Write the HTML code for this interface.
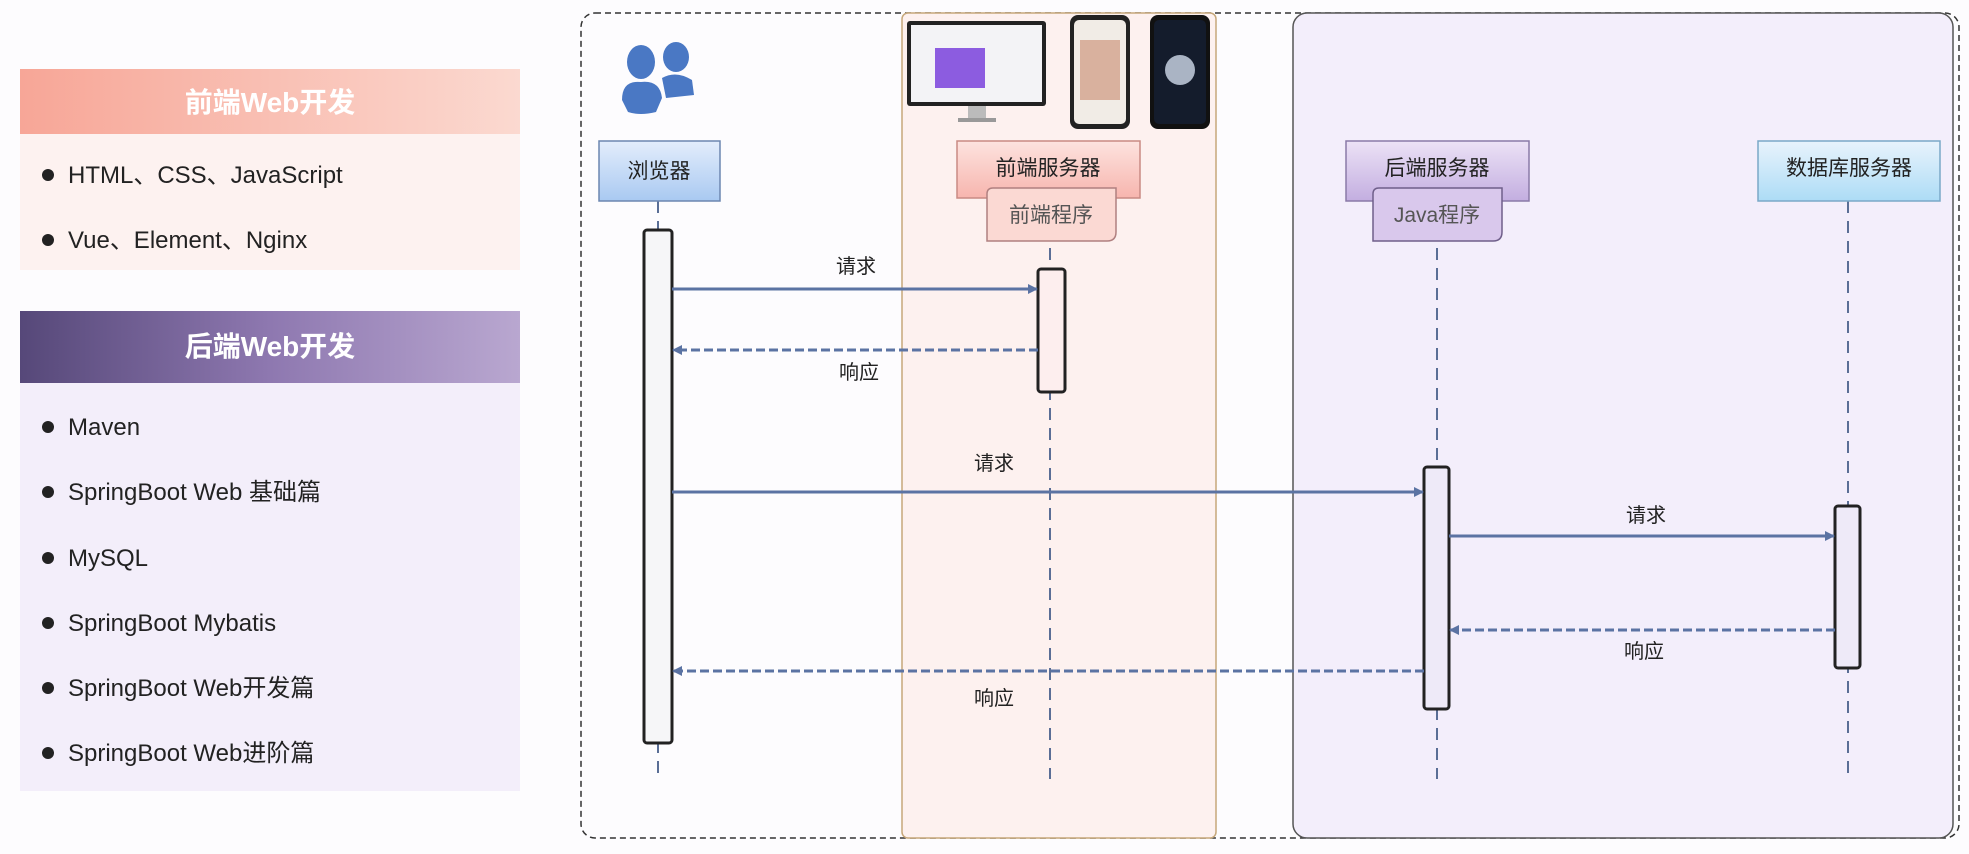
<!DOCTYPE html>
<html><head><meta charset="utf-8"><style>
html,body{margin:0;padding:0;background:#fdfcfe;}
svg{display:block;font-family:"Liberation Sans","Noto Sans CJK SC",sans-serif;}
</style></head><body>
<svg width="1969" height="854" viewBox="0 0 1969 854" xmlns="http://www.w3.org/2000/svg">
<defs>
<linearGradient id="gf" x1="0" x2="1"><stop offset="0" stop-color="#f7a697"/><stop offset="1" stop-color="#fbd9d0"/></linearGradient>
<linearGradient id="gb" x1="0" x2="1"><stop offset="0" stop-color="#564879"/><stop offset="0.5" stop-color="#8e78b0"/><stop offset="1" stop-color="#b9a7d0"/></linearGradient>
<linearGradient id="pb" x1="0" y1="0" x2="0" y2="1"><stop offset="0" stop-color="#e3edfc"/><stop offset="1" stop-color="#a9c9f1"/></linearGradient>
<linearGradient id="pp" x1="0" y1="0" x2="0" y2="1"><stop offset="0" stop-color="#fde3df"/><stop offset="1" stop-color="#f7b5ae"/></linearGradient>
<linearGradient id="pv" x1="0" y1="0" x2="0" y2="1"><stop offset="0" stop-color="#ece2f6"/><stop offset="1" stop-color="#c3aee0"/></linearGradient>
<linearGradient id="pd" x1="0" y1="0" x2="0" y2="1"><stop offset="0" stop-color="#e8f3fc"/><stop offset="1" stop-color="#addcf6"/></linearGradient>
<marker id="ah" markerWidth="10" markerHeight="10" refX="9" refY="5" orient="auto" markerUnits="userSpaceOnUse"><path d="M0,0 L10,5 L0,10 Z" fill="#5b73a3"/></marker>
</defs>

<!-- left panels -->
<rect x="20" y="69" width="500" height="65" fill="url(#gf)"/>
<text x="270" y="112" text-anchor="middle" font-size="28" font-weight="bold" fill="#fff">前端Web开发</text>
<rect x="20" y="134" width="500" height="136" fill="#fdf2f0"/>
<g font-size="24" fill="#222">
<circle cx="48" cy="175" r="6" fill="#222"/><text x="68" y="183">HTML、CSS、JavaScript</text>
<circle cx="48" cy="240" r="6" fill="#222"/><text x="68" y="248">Vue、Element、Nginx</text>
</g>
<rect x="20" y="311" width="500" height="72" fill="url(#gb)"/>
<text x="270" y="356" text-anchor="middle" font-size="28" font-weight="bold" fill="#fff">后端Web开发</text>
<rect x="20" y="383" width="500" height="408" fill="#f3eefa"/>
<g font-size="24" fill="#222">
<circle cx="48" cy="427" r="6"/><text x="68" y="435">Maven</text>
<circle cx="48" cy="492" r="6"/><text x="68" y="500">SpringBoot Web 基础篇</text>
<circle cx="48" cy="558" r="6"/><text x="68" y="566">MySQL</text>
<circle cx="48" cy="623" r="6"/><text x="68" y="631">SpringBoot Mybatis</text>
<circle cx="48" cy="688" r="6"/><text x="68" y="696">SpringBoot Web开发篇</text>
<circle cx="48" cy="753" r="6"/><text x="68" y="761">SpringBoot Web进阶篇</text>
</g>

<!-- regions -->
<rect x="581" y="13" width="1378" height="825" rx="14" fill="none" stroke="#333" stroke-width="1.5" stroke-dasharray="6,4"/>
<rect x="902" y="13" width="314" height="825" rx="6" fill="#fdf1ef" stroke="#c6a77a" stroke-width="1.5"/>
<rect x="1293" y="13" width="660" height="825" rx="14" fill="#f3eefb" stroke="#555" stroke-width="1.5"/>

<!-- people icon -->
<g fill="#4a78c4">
<ellipse cx="641" cy="62" rx="14" ry="17"/>
<path d="M622,100 Q622,80 641,82 Q660,80 662,98 L656,112 Q640,116 628,112 Z"/>
<ellipse cx="676" cy="57" rx="13" ry="15"/>
<path d="M662,78 Q676,70 692,80 L694,95 L666,98 Z"/>
</g>

<!-- devices -->
<rect x="907" y="21" width="139" height="85" rx="3" fill="#222"/>
<rect x="911" y="25" width="131" height="77" fill="#f3f3f6"/>
<rect x="935" y="48" width="50" height="40" fill="#8c5ce0"/>
<rect x="968" y="106" width="18" height="12" fill="#bbb"/><rect x="958" y="118" width="38" height="4" fill="#999"/>
<rect x="1070" y="15" width="60" height="114" rx="8" fill="#222"/>
<rect x="1074" y="20" width="52" height="104" rx="5" fill="#f1ece6"/>
<rect x="1080" y="40" width="40" height="60" fill="#c98a6e" opacity="0.6"/>
<rect x="1150" y="15" width="60" height="114" rx="8" fill="#111"/>
<rect x="1154" y="20" width="52" height="104" rx="5" fill="#141c2c"/>
<circle cx="1180" cy="70" r="15" fill="#aab4c4"/>

<!-- lifelines -->
<g stroke="#5a6e96" stroke-width="2" stroke-dasharray="12,8">
<line x1="658" y1="201" x2="658" y2="779"/>
<line x1="1050" y1="248" x2="1050" y2="779"/>
<line x1="1437" y1="248" x2="1437" y2="779"/>
<line x1="1848" y1="201" x2="1848" y2="779"/>
</g>

<!-- participants -->
<g font-size="21" fill="#222" text-anchor="middle">
<rect x="599" y="141" width="121" height="60" fill="url(#pb)" stroke="#6d86b0" stroke-width="1.5"/>
<text x="659" y="178">浏览器</text>
<rect x="957" y="141" width="183" height="57" fill="url(#pp)" stroke="#c98a84" stroke-width="1.5"/>
<text x="1048" y="175">前端服务器</text>
<path d="M993,188 H1116 V232 Q1116,241 1107,241 H987 V194 Q987,188 993,188 Z" fill="#fbd9d3" stroke="#b08080" stroke-width="1.5"/>
<text x="1051" y="222" fill="#555">前端程序</text>
<rect x="1346" y="141" width="183" height="60" fill="url(#pv)" stroke="#8a7aa8" stroke-width="1.5"/>
<text x="1437" y="175">后端服务器</text>
<path d="M1379,188 H1502 V232 Q1502,241 1493,241 H1373 V194 Q1373,188 1379,188 Z" fill="#d9c8ec" stroke="#6f5f8a" stroke-width="1.5"/>
<text x="1437" y="222" fill="#555">Java程序</text>
<rect x="1758" y="141" width="182" height="60" fill="url(#pd)" stroke="#7aa8c8" stroke-width="1.5"/>
<text x="1849" y="175">数据库服务器</text>
</g>

<!-- activations -->
<g stroke="#222" stroke-width="3">
<rect x="644" y="230" width="28" height="513" rx="3" fill="#f6f6f8"/>
<rect x="1038" y="269" width="27" height="123" rx="3" fill="#fdeeee"/>
<rect x="1424" y="467" width="25" height="242" rx="3" fill="#eeeaf8"/>
<rect x="1835" y="506" width="25" height="162" rx="3" fill="#eeeaf8"/>
</g>

<!-- arrows -->
<g stroke="#5b73a3" stroke-width="3" fill="none" marker-end="url(#ah)">
<line x1="672" y1="289" x2="1037" y2="289"/>
<line x1="1038" y1="350" x2="673" y2="350" stroke-dasharray="9,4"/>
<line x1="672" y1="492" x2="1423" y2="492"/>
<line x1="1449" y1="536" x2="1834" y2="536"/>
<line x1="1835" y1="630" x2="1450" y2="630" stroke-dasharray="9,4"/>
<line x1="1424" y1="671" x2="673" y2="671" stroke-dasharray="9,4"/>
</g>
<g font-size="20" fill="#222" text-anchor="middle">
<text x="856" y="273">请求</text>
<text x="859" y="379">响应</text>
<text x="994" y="470">请求</text>
<text x="1646" y="522">请求</text>
<text x="1644" y="658">响应</text>
<text x="994" y="705">响应</text>
</g>
</svg>
</body></html>
